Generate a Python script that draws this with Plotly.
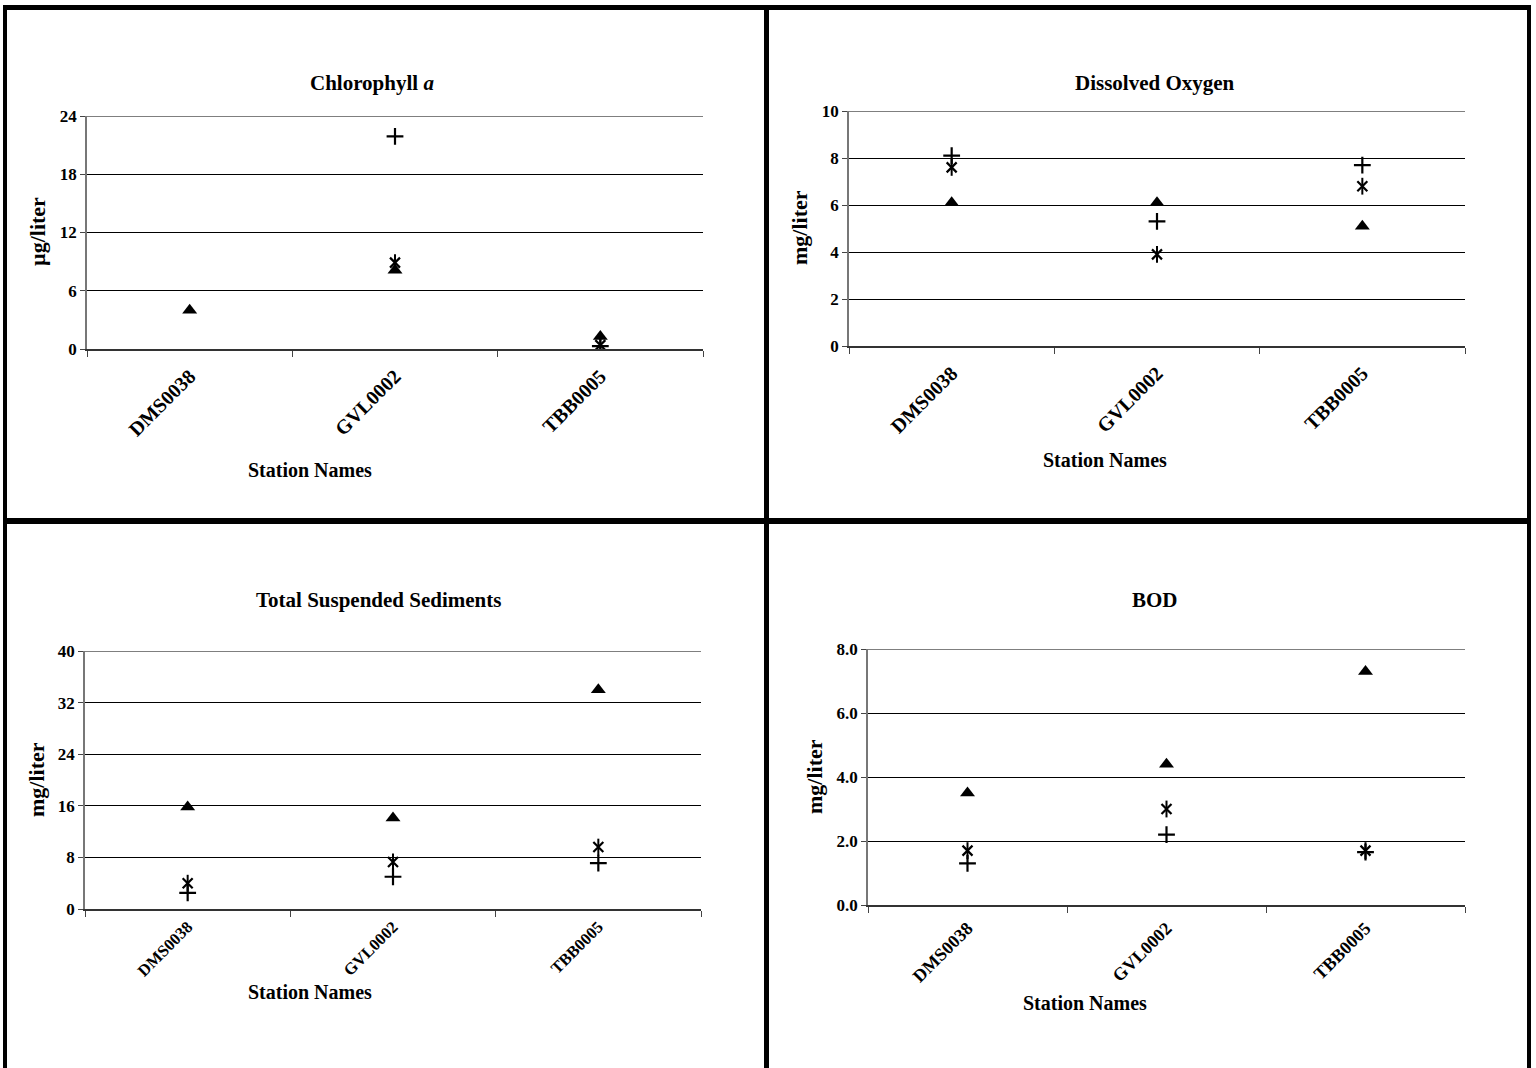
import plotly.graph_objects as go

W, H = 1536, 1068

stations = ["DMS0038", "GVL0002", "TBB0005"]

# Chlorophyll a (µg/liter)
chl_triangle = [4.0, 8.1, 1.3]
chl_star = [None, 8.9, 0.4]
chl_plus = [None, 21.9, 0.3]

# Dissolved Oxygen (mg/liter)
do_triangle = [6.1, 6.1, 5.1]
do_star = [7.6, 3.9, 6.8]
do_plus = [8.1, 5.3, 7.7]

# Total Suspended Sediments (mg/liter)
tss_triangle = [15.8, 14.1, 34.0]
tss_star = [4.0, 7.3, 9.6]
tss_plus = [2.5, 5.0, 7.1]

# BOD (mg/liter)
bod_triangle = [3.5, 4.4, 7.3]
bod_star = [1.7, 3.0, 1.7]
bod_plus = [1.3, 2.2, 1.65]

panels = [
    dict(title="Chlorophyll <i>a</i>", ytitle="µg/liter", tri=chl_triangle, star=chl_star, plus=chl_plus,
         yrange=[0, 24], dtick=6, fmt="", box=(87, 703, 116, 349), xfont=20, stand=6,
         tpos=(372, 83), ypos=(38, 232), xpos=(310, 470)),
    dict(title="Dissolved Oxygen", ytitle="mg/liter", tri=do_triangle, star=do_star, plus=do_plus,
         yrange=[0, 10], dtick=2, fmt="", box=(849, 1465, 111, 346), xfont=20, stand=6,
         tpos=(1155, 83), ypos=(800, 228), xpos=(1105, 460)),
    dict(title="Total Suspended Sediments", ytitle="mg/liter", tri=tss_triangle, star=tss_star, plus=tss_plus,
         yrange=[0, 40], dtick=8, fmt="", box=(85, 701, 651, 909), xfont=16.5, stand=0,
         tpos=(378, 600), ypos=(36, 780), xpos=(310, 992)),
    dict(title="BOD", ytitle="mg/liter", tri=bod_triangle, star=bod_star, plus=bod_plus,
         yrange=[0, 8], dtick=2, fmt=".1f", box=(868, 1465, 649, 905), xfont=18, stand=4,
         tpos=(1155, 600), ypos=(815, 777), xpos=(1085, 1003)),
]

FONT = "Liberation Serif, Times New Roman, serif"

fig = go.Figure()
annotations = []
shapes = []

for i, p in enumerate(panels, start=1):
    xa = "x" if i == 1 else f"x{i}"
    ya = "y" if i == 1 else f"y{i}"
    x0, x1, y0, y1 = p["box"]
    dom_x = [x0 / W, x1 / W]
    dom_y = [1 - y1 / H, 1 - y0 / H]
    xkey = "xaxis" if i == 1 else f"xaxis{i}"
    ykey = "yaxis" if i == 1 else f"yaxis{i}"
    fig.update_layout(**{
        xkey: dict(domain=dom_x, anchor=ya, type="category", categoryorder="array",
                   categoryarray=stations, range=[-0.5, 2.5], tickson="boundaries",
                   ticks="outside", ticklen=6, tickcolor="#444", showgrid=False,
                   showline=True, linecolor="#333", linewidth=1.5, tickangle=-45,
                   ticklabelstandoff=p["stand"],
                   tickfont=dict(family=FONT, size=p["xfont"], color="black", weight="bold"),
                   zeroline=False, automargin=False, fixedrange=True),
        ykey: dict(domain=dom_y, anchor=xa, range=p["yrange"], dtick=p["dtick"], tick0=0,
                   tickformat=p["fmt"], ticks="outside", ticklen=5, tickcolor="#444",
                   showgrid=True, gridcolor="black", gridwidth=1, showline=True,
                   linecolor="#777", linewidth=1.5, zeroline=False,
                   tickfont=dict(family=FONT, size=17, color="black", weight="bold"),
                   automargin=False, fixedrange=True),
    })
    # gridline at the top of the value range
    shapes.append(dict(type="line", xref=f"{xa} domain", yref=ya, x0=0, x1=1,
                       y0=p["yrange"][1], y1=p["yrange"][1],
                       line=dict(color="black", width=1), layer="below"))
    fig.add_trace(go.Scatter(x=stations, y=p["tri"], xaxis=xa, yaxis=ya, mode="markers",
                             name="triangle", showlegend=False,
                             marker=dict(symbol="triangle-up", size=13, color="black")))
    fig.add_trace(go.Scatter(x=stations, y=p["star"], xaxis=xa, yaxis=ya, mode="markers",
                             name="star", showlegend=False,
                             marker=dict(symbol="x-thin-open", size=10, color="black",
                                         line=dict(width=2.2, color="black"))))
    fig.add_trace(go.Scatter(x=stations, y=p["star"], xaxis=xa, yaxis=ya, mode="markers",
                             name="star", showlegend=False,
                             marker=dict(symbol="line-ns-open", size=12, color="black",
                                         line=dict(width=2, color="black"))))
    fig.add_trace(go.Scatter(x=stations, y=p["plus"], xaxis=xa, yaxis=ya, mode="markers",
                             name="plus", showlegend=False,
                             marker=dict(symbol="cross-thin-open", size=12, color="black",
                                         line=dict(width=2.2, color="black"))))
    tx, ty = p["tpos"]
    annotations.append(dict(text=f"<b>{p['title']}</b>", x=tx / W, y=1 - ty / H, xref="paper",
                            yref="paper", showarrow=False, xanchor="center", yanchor="middle",
                            font=dict(family=FONT, size=21, color="black")))
    yx, yy = p["ypos"]
    annotations.append(dict(text=f"<b>{p['ytitle']}</b>", x=yx / W, y=1 - yy / H, xref="paper",
                            yref="paper", showarrow=False, xanchor="center", yanchor="middle",
                            textangle=-90, font=dict(family=FONT, size=22, color="black")))
    sx, sy = p["xpos"]
    annotations.append(dict(text="<b>Station Names</b>", x=sx / W, y=1 - sy / H, xref="paper",
                            yref="paper", showarrow=False, xanchor="center", yanchor="middle",
                            font=dict(family=FONT, size=20, color="black")))

# thick table borders
def rect(px0, py0, px1, py1):
    shapes.append(dict(type="rect", xref="paper", yref="paper", x0=px0 / W, x1=px1 / W,
                       y0=1 - py1 / H, y1=1 - py0 / H, fillcolor="black", line=dict(width=0),
                       layer="above"))

rect(3, 5, 1531, 10)       # top
rect(3, 5, 7, H)           # left
rect(1527, 5, 1531, H)     # right
rect(764, 5, 769, H)       # middle vertical
rect(3, 518, 1531, 524)    # middle horizontal

fig.update_layout(width=W, height=H, margin=dict(l=0, r=0, t=0, b=0, autoexpand=False),
                  paper_bgcolor="white", plot_bgcolor="white",
                  annotations=annotations, shapes=shapes, showlegend=False,
                  font=dict(family=FONT, color="black"))

fig.write_html("out.html", config={"displayModeBar": False},
               post_script="document.body.style.margin='0';document.body.style.overflow='hidden';")
